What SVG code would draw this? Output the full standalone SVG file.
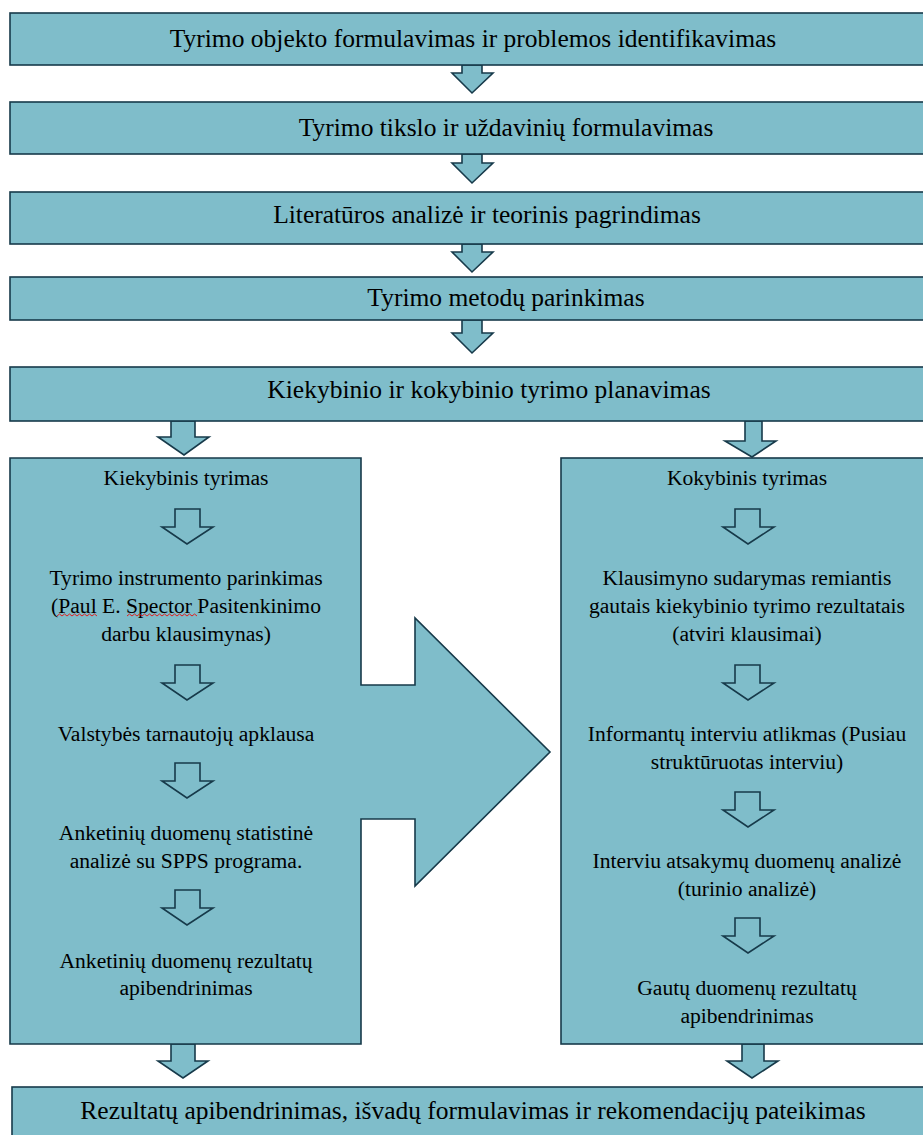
<svg xmlns="http://www.w3.org/2000/svg" width="923" height="1135" viewBox="0 0 923 1135">
  <style>
    .box { fill: #7fbdca; stroke: #173a4a; stroke-width: 1.6; }
    .arr { fill: #7fbdca; stroke: #173a4a; stroke-width: 1.6; stroke-linejoin: miter; }
    .t { font-family: "Liberation Serif", "Times New Roman", serif; fill: #000; text-anchor: middle; }
    .big { font-size: 25.5px; }
    .sm { font-size: 21.6px; }
    .spell { fill: none; stroke: #e02020; stroke-width: 1; }
  </style>
  <rect width="923" height="1135" fill="#ffffff"/>

  <!-- connectors -->
  <g id="connectors">
    <polygon class="arr" points="462,65 482,65 482,73 493,73 472,93 452,73 462,73"/>
    <polygon class="arr" points="462,154 482,154 482,163 493,163 472,183 452,163 462,163"/>
    <polygon class="arr" points="462,244 482,244 482,252 493,252 472,272 452,252 462,252"/>
    <polygon class="arr" points="462,320 482,320 482,333 493,333 472,353 452,333 462,333"/>
    <polygon class="arr" points="171,421 195,421 195,437 209,437 184,455 158,437 171,437"/>
    <polygon class="arr" points="745,421 762,421 762,441 776,441 752,457 725,441 745,441"/>
    <polygon class="arr" points="171,1044 195,1044 195,1061 208,1061 183,1078 158,1061 171,1061"/>
    <polygon class="arr" points="742,1044 764,1044 764,1061 778,1061 752,1078 727,1061 742,1061"/>
  </g>

  <!-- main sequence -->
  <g id="n1"><rect class="box" x="10" y="13" width="930" height="52"/>
    <text class="t big" x="473" y="47">Tyrimo objekto formulavimas ir problemos identifikavimas</text></g>
  <g id="n2"><rect class="box" x="10" y="102" width="930" height="52"/>
    <text class="t big" x="506" y="136">Tyrimo tikslo ir uždavinių formulavimas</text></g>
  <g id="n3"><rect class="box" x="10" y="192" width="930" height="52"/>
    <text class="t big" x="487" y="223">Literatūros analizė ir teorinis pagrindimas</text></g>
  <g id="n4"><rect class="box" x="10" y="277" width="930" height="43"/>
    <text class="t big" x="506" y="306">Tyrimo metodų parinkimas</text></g>
  <g id="n5"><rect class="box" x="10" y="367" width="930" height="54"/>
    <text class="t big" x="489" y="398">Kiekybinio ir kokybinio tyrimo planavimas</text></g>

  <!-- quantitative branch with the transfer arrow -->
  <g id="n6">
    <polygon class="box" points="10,458 361,458 361,685 415,685 415,618 550,752 415,886 415,819 361,819 361,1044 10,1044"/>
    <text class="t sm" x="186" y="485">Kiekybinis tyrimas</text>
    <polygon class="arr" points="175,509 200,509 200,527 213,527 187,544 162,527 175,527"/>
    <text class="t sm" x="186" y="585">Tyrimo instrumento parinkimas</text>
    <text class="t sm" x="186" y="613">(Paul E. Spector Pasitenkinimo</text>
    <text class="t sm" x="186" y="641">darbu klausimynas)</text>
    <path class="spell" d="M57,616 l2.5,-2 l2.5,2 l2.5,-2 l2.5,2 l2.5,-2 l2.5,2 l2.5,-2 l2.5,2 l2.5,-2 l2.5,2 l2.5,-2 l2.5,2 l2.5,-2 l2.5,2 l2.5,-2 l2.5,2"/>
    <path class="spell" d="M127,616 l2.5,-2 l2.5,2 l2.5,-2 l2.5,2 l2.5,-2 l2.5,2 l2.5,-2 l2.5,2 l2.5,-2 l2.5,2 l2.5,-2 l2.5,2 l2.5,-2 l2.5,2 l2.5,-2 l2.5,2 l2.5,-2 l2.5,2 l2.5,-2 l2.5,2 l2.5,-2 l2.5,2 l2.5,-2 l2.5,2 l2.5,-2 l2.5,2 l2.5,-2 l2.5,2"/>
    <polygon class="arr" points="175,665 200,665 200,683 213,683 187,700 162,683 175,683"/>
    <text class="t sm" x="186" y="741">Valstybės tarnautojų apklausa</text>
    <polygon class="arr" points="175,763 200,763 200,781 213,781 187,798 162,781 175,781"/>
    <text class="t sm" x="186" y="840">Anketinių duomenų statistinė</text>
    <text class="t sm" x="186" y="868">analizė su SPPS programa.</text>
    <polygon class="arr" points="175,890 200,890 200,908 213,908 187,925 162,908 175,908"/>
    <text class="t sm" x="186" y="968">Anketinių duomenų rezultatų</text>
    <text class="t sm" x="186" y="995">apibendrinimas</text>
  </g>

  <!-- qualitative branch -->
  <g id="n7">
    <rect class="box" x="561" y="458" width="380" height="586"/>
    <text class="t sm" x="747" y="485">Kokybinis tyrimas</text>
    <polygon class="arr" points="735,509 760,509 760,527 774,527 748,544 723,527 735,527"/>
    <text class="t sm" x="747" y="585">Klausimyno sudarymas remiantis</text>
    <text class="t sm" x="747" y="613">gautais kiekybinio tyrimo rezultatais</text>
    <text class="t sm" x="747" y="641">(atviri klausimai)</text>
    <polygon class="arr" points="735,665 760,665 760,683 774,683 748,700 723,683 735,683"/>
    <text class="t sm" x="747" y="741">Informantų interviu atlikmas (Pusiau</text>
    <text class="t sm" x="747" y="769">struktūruotas interviu)</text>
    <polygon class="arr" points="735,792 760,792 760,810 774,810 748,827 723,810 735,810"/>
    <text class="t sm" x="747" y="868">Interviu atsakymų duomenų analizė</text>
    <text class="t sm" x="747" y="896">(turinio analizė)</text>
    <polygon class="arr" points="735,918 760,918 760,936 774,936 748,953 723,936 735,936"/>
    <text class="t sm" x="747" y="995">Gautų duomenų rezultatų</text>
    <text class="t sm" x="747" y="1023">apibendrinimas</text>
  </g>

  <!-- conclusion -->
  <g id="n8"><rect class="box" x="12" y="1087" width="930" height="60"/>
    <text class="t big" x="473" y="1119">Rezultatų apibendrinimas, išvadų formulavimas ir rekomendacijų pateikimas</text></g>
</svg>
